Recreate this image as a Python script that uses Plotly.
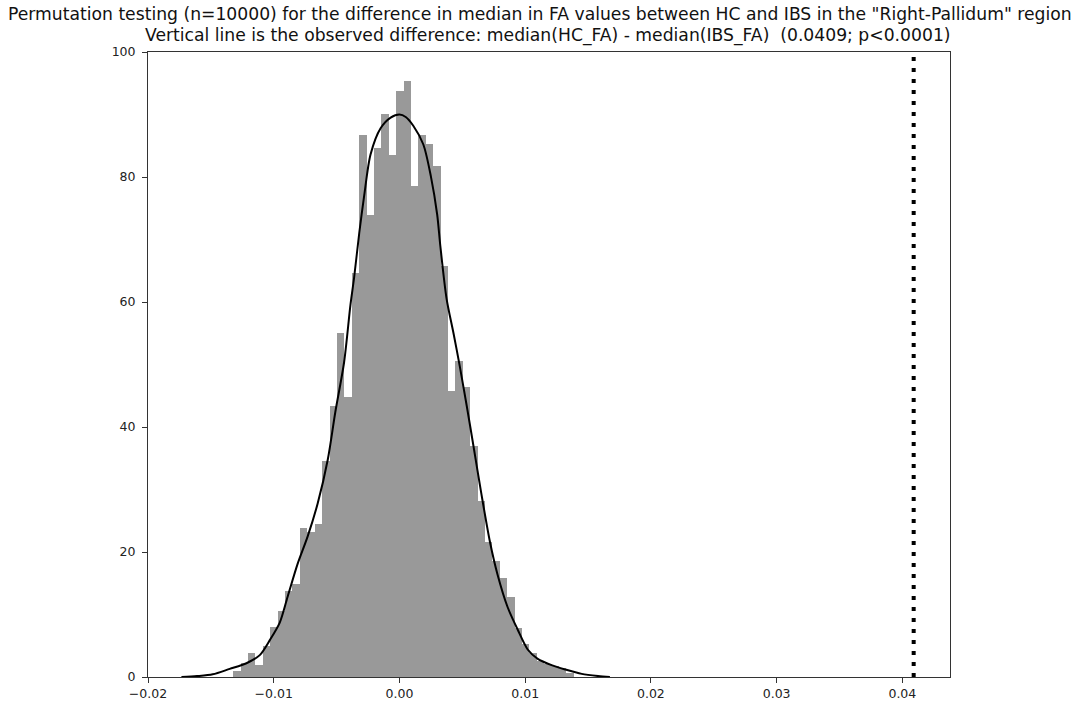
import numpy as np
import plotly.graph_objects as go

# ---- data ----
bin_start = -0.01322          # left edge of first histogram bin
bin_width = 0.000589          # histogram bin width
bar_density = [0.9, 2.3, 3.8, 1.9, 5.0, 8.0, 10.6, 13.7, 14.9, 23.8,
               23.2, 24.5, 34.6, 43.4, 55.0, 44.8, 64.7, 86.8, 74.0, 84.7,
               90.1, 83.6, 93.7, 95.3, 78.6, 86.7, 85.3, 81.7, 65.7, 45.8,
               50.6, 46.4, 36.9, 28.2, 21.6, 18.6, 15.8, 12.8, 7.9, 5.3,
               3.8, 2.5, 2.1, 1.7, 1.4, 0.7]

kde_x = [-0.01734, -0.0161, -0.01485, -0.0135, -0.01217, -0.01111, -0.01031,
         -0.00952, -0.0089, -0.0081, -0.0073, -0.0065, -0.0057, -0.0051, -0.0044,
         -0.0039, -0.0036, -0.0032, -0.0028, -0.0023, -0.0015, -0.0007, 0.0000,
         0.0005, 0.0011, 0.0019, 0.0025, 0.0030, 0.00325, 0.00375, 0.0043,
         0.0048, 0.00535, 0.0059, 0.0065, 0.0072, 0.0078, 0.0086, 0.0094,
         0.0102, 0.0110, 0.0121, 0.0132, 0.0145, 0.0158, 0.01674]
kde_y = [0.0, 0.15, 0.43, 1.3, 2.2, 3.5, 5.9,
         8.7, 12.8, 18.1, 22.5, 27.8, 34.8, 42.4, 50.4,
         59.5, 64.0, 71.0, 77.1, 83.6, 87.8, 89.5, 90.0,
         89.6, 88.2, 85.2, 80.1, 74.0, 69.0, 60.5, 55.0,
         49.7, 43.4, 36.8, 29.5, 21.6, 16.4, 11.2, 7.6,
         4.4, 2.9, 1.9, 1.2, 0.5, 0.15, 0.0]

observed_diff = 0.0409
x_ticks = [-0.02, -0.01, 0.00, 0.01, 0.02, 0.03, 0.04]
y_ticks = [0, 20, 40, 60, 80, 100]

title_line1 = 'Permutation testing (n=10000) for the difference in median in FA values between HC and IBS in the "Right-Pallidum" region'
title_line2 = 'Vertical line is the observed difference: median(HC_FA) - median(IBS_FA) \u00a0(0.0409; p<0.0001)'

# ---- figure ----
centers = bin_start + (np.arange(len(bar_density)) + 0.5) * bin_width

fig = go.Figure()
fig.add_trace(go.Bar(x=centers, y=bar_density, width=bin_width,
                     marker=dict(color='#999999', line=dict(width=0)),
                     hoverinfo='skip', showlegend=False))
fig.add_trace(go.Scatter(x=kde_x, y=kde_y, mode='lines',
                         line=dict(color='black', width=2, shape='spline', smoothing=0.8),
                         showlegend=False))
fig.add_trace(go.Scatter(x=[observed_diff, observed_diff], y=[0, 100], mode='lines',
                         line=dict(color='black', width=4, dash='4px,7px'),
                         showlegend=False))

axis_common = dict(showline=True, linecolor='#333333', linewidth=1, mirror=True,
                   ticks='outside', ticklen=5, tickcolor='#333333', tickwidth=1,
                   showgrid=False, zeroline=False, automargin=False,
                   tickfont=dict(family='DejaVu Sans', size=12.5, color='#222222'))

title_font = dict(family='DejaVu Sans', size=17.2, color='#111111')
fig.update_layout(
    width=1085, height=704,
    margin=dict(l=148, r=135, t=52, b=27),
    paper_bgcolor='white', plot_bgcolor='white',
    bargap=0,
    xaxis=dict(range=[-0.02, 0.04379], tickvals=x_ticks, tickformat='.2f', **axis_common),
    yaxis=dict(range=[0, 100], tickvals=y_ticks, ticklabelstandoff=4, **axis_common),
    annotations=[
        dict(text=title_line1, xref='paper', yref='paper', x=(540 - 148) / 802,
             y=1 + (52 - 14) / 625, xanchor='center', yanchor='middle',
             showarrow=False, font=title_font),
        dict(text=title_line2, xref='paper', yref='paper', x=(548 - 148) / 802,
             y=1 + (52 - 35) / 625, xanchor='center', yanchor='middle',
             showarrow=False, font=title_font),
    ],
)

fig.write_html("out.html")
